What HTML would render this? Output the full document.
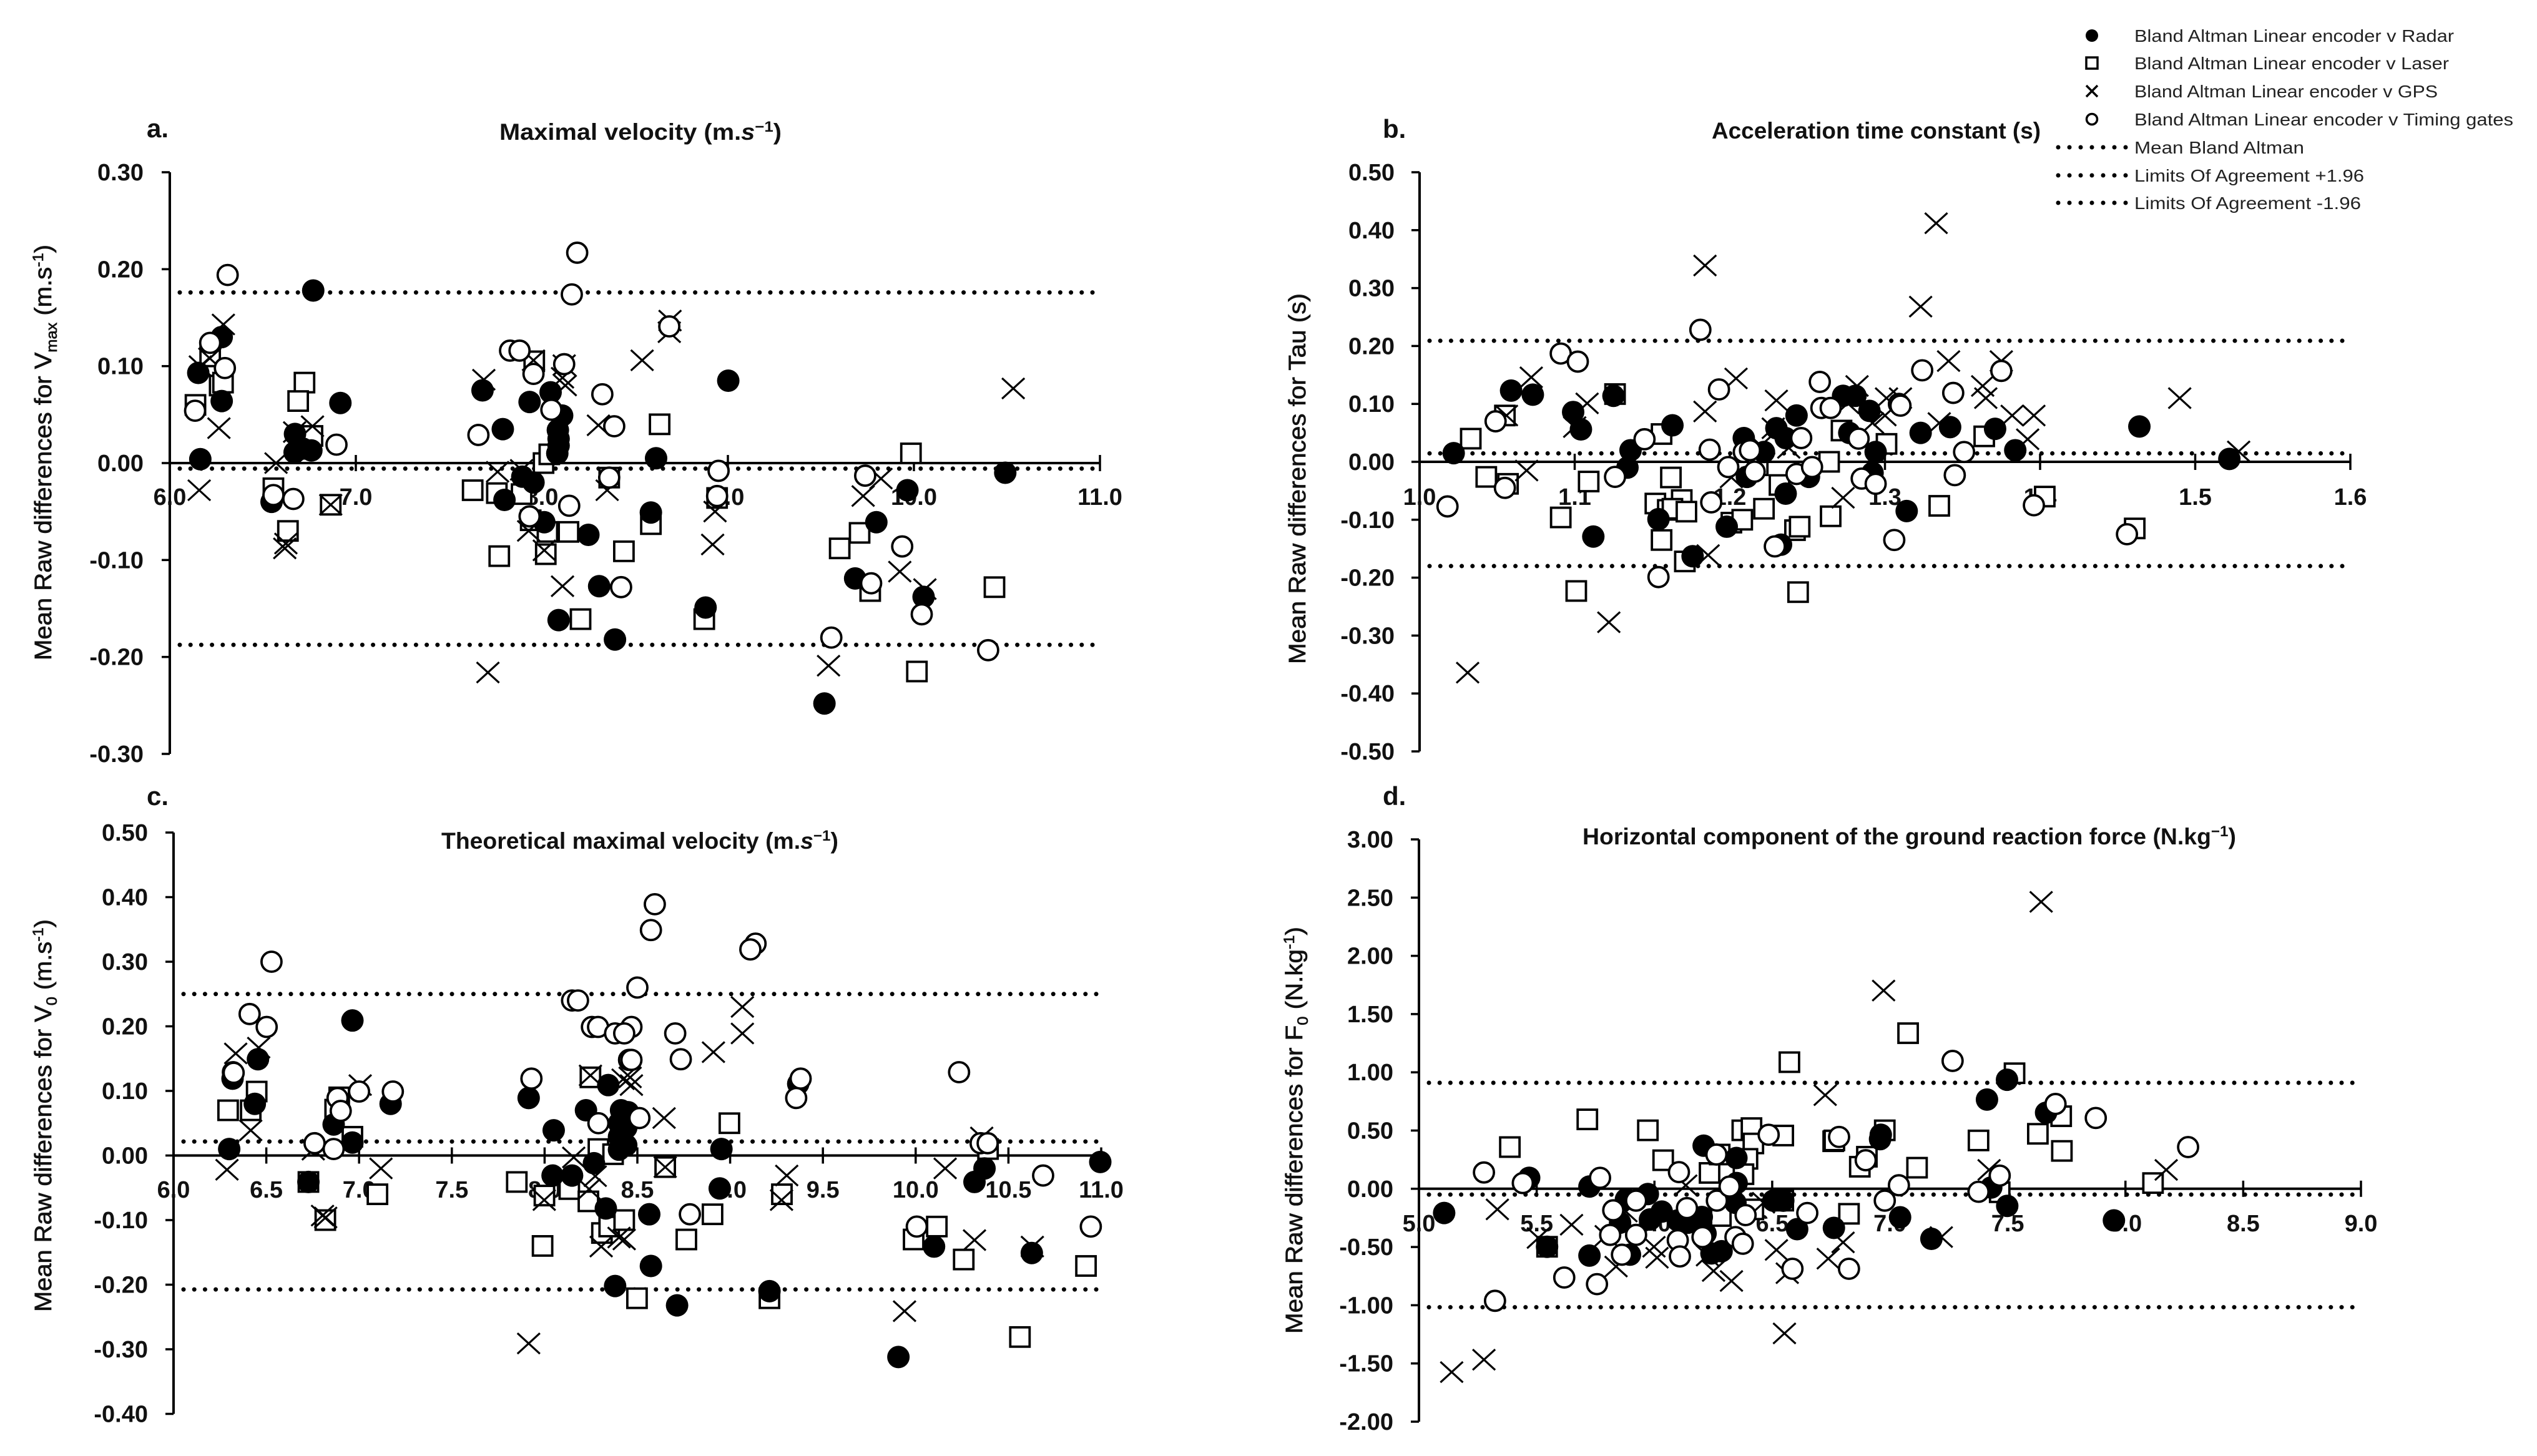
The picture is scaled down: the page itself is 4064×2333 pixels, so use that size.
<!DOCTYPE html>
<html lang="en">
<head>
<meta charset="utf-8">
<title>Bland Altman plots</title>
<style>
html,body{margin:0;padding:0;background:#fff;}
svg{display:block;}
text{font-family:"Liberation Sans",sans-serif;fill:#111;}
.panel-letter{font-size:42px;font-weight:bold;}
.panel-title{font-size:37px;font-weight:bold;}
.axis-title{font-size:38px;stroke:#111;stroke-width:0.7px;}
.tick-label{font-size:38px;font-weight:bold;}
.legend-text{font-size:28px;fill:#222;}
</style>
</head>
<body>
<svg id="chart" xmlns="http://www.w3.org/2000/svg" width="4064" height="2333" viewBox="0 0 4064 2333">
<rect x="0" y="0" width="4064" height="2333" fill="#ffffff"/>

<text class="panel-letter" x="235" y="220">a.</text>
<text class="panel-title" x="800" y="224" textLength="452" lengthAdjust="spacingAndGlyphs">Maximal velocity (m.<tspan font-style="italic">s</tspan><tspan dy="-13" font-size="24">−1</tspan><tspan dy="13">)</tspan></text>
<text class="axis-title" transform="translate(82,1058) rotate(-90)" x="0" y="0" textLength="666" lengthAdjust="spacingAndGlyphs">Mean Raw differences for V<tspan dy="9" font-size="24">max</tspan><tspan dy="-9"> (m.s</tspan><tspan dy="-13" font-size="24">-1</tspan><tspan dy="13">)</tspan></text>

<text class="panel-letter" x="2215" y="221">b.</text>
<text class="panel-title" x="2742" y="222" textLength="527" lengthAdjust="spacingAndGlyphs">Acceleration time constant (s)</text>
<text class="axis-title" transform="translate(2091,1064) rotate(-90)" x="0" y="0" textLength="594" lengthAdjust="spacingAndGlyphs">Mean Raw differences for Tau  (s)</text>

<text class="panel-letter" x="235" y="1290">c.</text>
<text class="panel-title" x="707" y="1360" textLength="636" lengthAdjust="spacingAndGlyphs">Theoretical maximal velocity (m.<tspan font-style="italic">s</tspan><tspan dy="-13" font-size="24">−1</tspan><tspan dy="13">)</tspan></text>
<text class="axis-title" transform="translate(82,2102) rotate(-90)" x="0" y="0" textLength="629" lengthAdjust="spacingAndGlyphs">Mean Raw differences for V<tspan dy="9" font-size="24">0</tspan><tspan dy="-9"> (m.s</tspan><tspan dy="-13" font-size="24">-1</tspan><tspan dy="13">)</tspan></text>

<text class="panel-letter" x="2215" y="1290">d.</text>
<text class="panel-title" x="2535" y="1353" textLength="1047" lengthAdjust="spacingAndGlyphs">Horizontal component of the ground reaction force (N.kg<tspan dy="-13" font-size="24">−1</tspan><tspan dy="13">)</tspan></text>
<text class="axis-title" transform="translate(2086,2137) rotate(-90)" x="0" y="0" textLength="652" lengthAdjust="spacingAndGlyphs">Mean Raw differences for F<tspan dy="9" font-size="24">0</tspan><tspan dy="-9">  (N.kg</tspan><tspan dy="-13" font-size="24">-1</tspan><tspan dy="13">)</tspan></text>

<g>
  <circle cx="3351" cy="57" r="10" fill="#000"/>
  <rect x="3342" y="92" width="18" height="18" fill="#fff" stroke="#000" stroke-width="3.5"/>
  <path d="M3342 137L3360 155M3360 137L3342 155" stroke="#000" stroke-width="3.5" fill="none"/>
  <circle cx="3351" cy="191" r="8.5" fill="#fff" stroke="#000" stroke-width="3.5"/>
  <line x1="3297" x2="3406" y1="236" y2="236" stroke="#000" stroke-width="7" stroke-linecap="round" stroke-dasharray="0 18"/>
  <line x1="3297" x2="3406" y1="281" y2="281" stroke="#000" stroke-width="7" stroke-linecap="round" stroke-dasharray="0 18"/>
  <line x1="3297" x2="3406" y1="325" y2="325" stroke="#000" stroke-width="7" stroke-linecap="round" stroke-dasharray="0 18"/>
  <text class="legend-text" x="3419" y="67" textLength="512" lengthAdjust="spacingAndGlyphs">Bland Altman Linear encoder v Radar</text>
  <text class="legend-text" x="3419" y="111" textLength="504" lengthAdjust="spacingAndGlyphs">Bland Altman Linear encoder v Laser</text>
  <text class="legend-text" x="3419" y="156" textLength="486" lengthAdjust="spacingAndGlyphs">Bland Altman Linear encoder v GPS</text>
  <text class="legend-text" x="3419" y="201" textLength="607" lengthAdjust="spacingAndGlyphs">Bland Altman Linear encoder v Timing gates</text>
  <text class="legend-text" x="3419" y="246" textLength="272" lengthAdjust="spacingAndGlyphs">Mean Bland Altman</text>
  <text class="legend-text" x="3419" y="291" textLength="368" lengthAdjust="spacingAndGlyphs">Limits Of Agreement +1.96</text>
  <text class="legend-text" x="3419" y="335" textLength="363" lengthAdjust="spacingAndGlyphs">Limits Of Agreement -1.96</text>
</g>
</svg>

<script>
// Panel a - Maximal velocity
const aXTicks = [6, 7, 8, 9, 10, 11];
const aYTicks = [0.3, 0.2, 0.1, 0, -0.1, -0.2, -0.3];
const aLimits = [0.176, -0.0057, -0.1875];
const aRadarX = [6.153,6.279,6.279,6.164,6.771,6.917,6.673,6.671,6.714,6.761,6.547,7.681,7.790,7.799,7.934,8.047,8.109,8.086,8.090,8.090,8.083,7.895,7.955,8.013,8.250,8.308,8.090,8.393,8.614,9.002,8.586,8.880,9.519,9.684,9.798,9.965,10.052,10.491];
const aRadarY = [0.093,0.130,0.064,0.004,0.178,0.062,0.030,0.011,0.015,0.013,-0.040,0.075,0.035,-0.038,0.063,0.073,0.049,0.034,0.025,0.018,0.010,-0.014,-0.020,-0.061,-0.074,-0.127,-0.162,-0.182,0.005,0.085,-0.051,-0.149,-0.248,-0.119,-0.061,-0.028,-0.138,-0.010];
const aLaserX = [6.138,6.217,6.268,6.286,6.557,6.635,6.724,6.690,6.767,6.865,7.628,7.758,7.771,7.891,7.959,8.009,8.040,7.940,8.030,8.143,8.021,8.208,8.441,8.362,8.586,8.633,8.873,8.942,9.601,9.708,9.765,9.984,10.016,10.433];
const aLaserY = [0.060,0.110,0.080,0.083,-0.026,-0.070,0.083,0.064,0.028,-0.043,-0.028,-0.031,-0.096,-0.032,0.105,0.000,0.009,-0.059,-0.071,-0.071,-0.094,-0.161,-0.091,-0.015,-0.063,0.040,-0.161,-0.036,-0.088,-0.072,-0.132,0.010,-0.215,-0.128];
const aGpsX = [6.158,6.164,6.215,6.288,6.264,6.571,6.767,6.671,6.624,6.618,6.865,7.688,7.710,7.762,7.891,7.955,7.929,8.013,8.111,8.120,8.111,8.126,8.304,8.351,8.689,8.685,8.539,8.931,8.918,9.727,9.823,9.924,10.059,9.541,10.534];
const aGpsY = [-0.028,0.100,0.108,0.143,0.036,0.000,0.038,0.032,-0.083,-0.088,-0.043,0.086,-0.216,-0.009,-0.007,0.106,-0.070,-0.090,-0.127,0.101,0.088,0.080,0.039,-0.028,0.147,0.135,0.106,-0.050,-0.084,-0.034,-0.016,-0.112,-0.130,-0.209,0.077];
const aTimingX = [6.311,6.217,6.296,6.136,6.896,6.557,6.664,7.659,7.829,7.880,7.955,8.120,8.051,8.190,8.161,8.325,8.389,8.362,8.147,7.934,8.426,8.950,8.942,9.738,9.937,9.770,10.042,9.556,10.399,8.685];
const aTimingY = [0.194,0.124,0.098,0.054,0.019,-0.033,-0.037,0.029,0.116,0.116,0.092,0.102,0.055,0.217,0.174,0.071,0.038,-0.015,-0.044,-0.055,-0.128,-0.008,-0.034,-0.013,-0.086,-0.124,-0.156,-0.180,-0.193,0.141];

// Panel b - Acceleration time constant
const bXTicks = [1.0, 1.1, 1.2, 1.3, 1.4, 1.5, 1.6];
const bYTicks = [0.5, 0.4, 0.3, 0.2, 0.1, 0, -0.1, -0.2, -0.3, -0.4, -0.5];
const bLimits = [0.209, 0.0146, -0.18];
const bRadarX = [1.022,1.059,1.073,1.099,1.104,1.125,1.136,1.134,1.112,1.163,1.154,1.176,1.198,1.209,1.211,1.222,1.230,1.236,1.243,1.236,1.233,1.251,1.273,1.281,1.290,1.277,1.294,1.292,1.314,1.323,1.342,1.371,1.384,1.464,1.522];
const bRadarY = [0.015,0.123,0.116,0.086,0.056,0.114,0.020,-0.010,-0.129,0.063,-0.099,-0.163,-0.112,0.041,-0.026,0.017,0.058,0.041,0.080,-0.055,-0.143,-0.026,0.114,0.114,0.088,0.050,0.017,-0.019,-0.085,0.050,0.060,0.057,0.020,0.061,0.005];
const bLaserX = [1.033,1.043,1.055,1.057,1.091,1.101,1.109,1.126,1.152,1.156,1.156,1.162,1.169,1.160,1.163,1.172,1.171,1.201,1.208,1.218,1.222,1.232,1.242,1.245,1.244,1.264,1.265,1.272,1.301,1.335,1.364,1.403,1.461];
const bLaserY = [0.040,-0.026,0.080,-0.038,-0.096,-0.223,-0.034,0.117,-0.072,-0.135,0.048,-0.027,-0.066,-0.083,-0.081,-0.086,-0.172,-0.105,-0.100,-0.006,-0.081,-0.040,-0.118,-0.112,-0.225,0.000,-0.094,0.054,0.031,-0.076,0.044,-0.060,-0.115];
const bGpsX = [1.031,1.056,1.069,1.072,1.108,1.100,1.122,1.184,1.184,1.204,1.186,1.201,1.230,1.228,1.238,1.220,1.273,1.282,1.276,1.292,1.301,1.300,1.310,1.333,1.323,1.341,1.375,1.335,1.363,1.365,1.382,1.396,1.392,1.490,1.528];
const bGpsY = [-0.364,0.080,-0.015,0.146,0.101,0.060,-0.277,0.339,0.087,0.144,-0.161,-0.027,0.106,0.058,0.024,0.028,-0.062,0.131,0.101,0.067,0.110,0.080,0.110,0.412,0.268,0.174,0.174,0.067,0.131,0.110,0.080,0.080,0.039,0.110,0.018];
const bTimingX = [1.018,1.049,1.055,1.091,1.102,1.126,1.145,1.154,1.181,1.187,1.193,1.188,1.199,1.209,1.213,1.216,1.229,1.243,1.246,1.253,1.258,1.259,1.265,1.283,1.285,1.294,1.306,1.309,1.310,1.324,1.344,1.351,1.345,1.375,1.396,1.456];
const bTimingY = [-0.077,0.070,-0.045,0.187,0.173,-0.026,0.039,-0.199,0.228,0.021,0.125,-0.070,-0.009,0.017,0.020,-0.017,-0.146,-0.021,0.041,-0.009,0.138,0.093,0.093,0.040,-0.029,-0.038,-0.135,0.100,0.097,0.158,0.119,0.017,-0.023,0.157,-0.075,-0.125];

// Panel c - Theoretical maximal velocity
const cXTicks = [6, 6.5, 7, 7.5, 8, 8.5, 9, 9.5, 10, 10.5, 11];
const cYTicks = [0.5, 0.4, 0.3, 0.2, 0.1, 0, -0.1, -0.2, -0.3, -0.4];
const cLimits = [0.25, 0.0216, -0.2074];
const cRadarX = [6.300,6.318,6.455,6.438,6.727,6.863,6.964,6.964,7.170,7.914,8.049,8.043,8.148,8.223,8.266,8.343,8.330,8.412,8.401,8.401,8.401,8.380,8.450,8.440,8.440,8.564,8.573,8.714,8.953,8.944,9.212,9.367,9.907,10.099,10.371,10.317,10.626,10.995];
const cRadarY = [0.010,0.119,0.149,0.080,-0.041,0.048,0.209,0.020,0.080,0.089,0.039,-0.031,-0.031,0.070,-0.012,0.109,-0.082,0.070,0.050,0.029,0.009,-0.202,0.067,0.043,0.016,-0.091,-0.171,-0.232,0.010,-0.051,-0.210,0.111,-0.312,-0.141,-0.020,-0.041,-0.151,-0.010];
const cLaserX = [6.294,6.416,6.448,6.727,6.818,6.893,6.871,6.964,7.099,7.850,7.989,7.999,8.133,8.236,8.247,8.290,8.369,8.309,8.348,8.429,8.498,8.650,8.764,8.905,8.996,9.212,9.279,9.989,10.114,10.259,10.390,10.562,10.918];
const cLaserY = [0.070,0.070,0.099,-0.041,-0.100,0.090,0.071,0.029,-0.060,-0.041,-0.140,-0.062,-0.052,-0.071,0.121,0.010,0.002,-0.120,-0.110,-0.100,-0.221,-0.018,-0.130,-0.091,0.050,-0.221,-0.060,-0.130,-0.110,-0.161,0.010,-0.281,-0.171];
const cGpsX = [6.288,6.335,6.416,6.459,6.753,6.803,6.820,7.006,7.118,7.914,7.998,8.157,8.247,8.273,8.240,8.305,8.401,8.423,8.461,8.468,8.429,8.644,8.650,8.910,9.066,9.066,9.305,9.277,9.940,10.159,10.317,10.356,10.629];
const cGpsY = [-0.022,0.158,0.039,0.167,0.009,-0.093,-0.096,0.109,-0.020,-0.291,-0.069,-0.003,0.124,-0.032,-0.052,-0.141,-0.127,0.118,0.121,0.109,-0.130,0.058,-0.018,0.160,0.189,0.230,-0.031,-0.069,-0.241,-0.020,-0.131,0.028,-0.141];
const cTimingX = [6.528,6.410,6.502,6.320,6.324,6.760,6.863,6.884,6.901,7.000,7.182,7.929,8.148,8.180,8.255,8.288,8.380,8.290,8.455,8.594,8.573,8.500,8.468,8.429,8.468,8.511,8.704,8.734,8.783,9.137,9.109,9.380,9.356,10.006,10.234,10.350,10.388,10.687,10.944];
const cTimingY = [0.300,0.219,0.199,0.129,0.128,0.019,0.010,0.089,0.069,0.099,0.099,0.119,0.240,0.240,0.199,0.199,0.189,0.050,0.148,0.389,0.349,0.260,0.199,0.189,0.148,0.058,0.189,0.149,-0.091,0.328,0.319,0.119,0.089,-0.110,0.129,0.019,0.019,-0.031,-0.110];

// Panel d - Horizontal component of the ground reaction force
const dXTicks = [5, 5.5, 6, 6.5, 7, 7.5, 8, 8.5, 9];
const dYTicks = [3, 2.5, 2, 1.5, 1, 0.5, 0, -0.5, -1, -1.5, -2];
const dLimits = [0.91, -0.05, -1.017];
const dRadarX = [5.107,5.468,5.724,5.724,5.544,5.879,5.972,6.031,5.981,5.854,6.099,6.142,6.201,6.209,6.217,6.242,6.285,6.348,6.349,6.344,5.896,6.505,6.547,6.606,6.762,6.961,6.958,7.043,7.176,7.412,7.497,7.430,7.498,7.663,7.951];
const dRadarY = [-0.208,0.094,-0.574,0.019,-0.498,-0.091,-0.045,-0.196,-0.264,-0.291,-0.272,-0.291,-0.242,0.370,-0.385,-0.555,-0.536,0.264,0.049,-0.121,-0.566,-0.102,-0.102,-0.347,-0.336,0.464,0.426,-0.245,-0.430,0.766,0.936,0.011,-0.147,0.653,-0.272];
const dLaserX = [5.386,5.715,5.544,5.972,6.037,6.234,6.277,6.373,6.412,6.420,6.395,6.378,6.547,6.282,6.420,6.547,6.573,6.759,6.764,6.826,6.902,6.872,6.978,7.077,7.115,7.376,7.529,7.466,7.628,7.727,7.730,8.117];
const dLaserY = [0.358,0.596,-0.498,0.502,0.245,0.136,0.294,0.502,0.521,0.389,0.257,0.125,0.457,-0.234,-0.177,-0.102,1.087,0.408,0.415,-0.215,0.275,0.189,0.502,1.336,0.181,0.415,0.992,-0.030,0.472,0.623,0.325,0.049];
const dGpsX = [5.139,5.276,5.333,5.648,5.507,6.133,5.795,5.837,5.998,6.011,6.251,6.225,6.327,6.518,6.564,6.552,6.725,6.738,6.801,6.973,6.463,5.879,7.218,7.642,7.421,8.173];
const dGpsY = [-1.574,-1.468,-0.177,-0.309,-0.423,0.030,-0.404,-0.668,-0.498,-0.592,-0.706,-0.574,-0.792,-0.525,-0.725,-1.242,0.804,-0.600,-0.460,1.702,-0.120,-0.196,-0.415,2.464,0.162,0.162];
const dTimingX = [5.276,5.441,5.323,5.617,5.756,5.769,5.825,5.812,5.862,5.922,5.922,6.104,6.138,6.099,6.108,6.204,6.263,6.265,6.319,6.387,6.344,6.375,6.485,6.649,6.586,6.784,6.826,6.897,6.978,7.038,7.266,7.376,7.466,7.703,7.874,8.266];
const dTimingY = [0.140,0.049,-0.962,-0.762,-0.819,0.094,-0.185,-0.396,-0.566,-0.102,-0.396,0.143,-0.166,-0.442,-0.581,-0.415,0.294,-0.102,0.019,-0.226,-0.415,-0.472,0.464,-0.208,-0.687,0.445,-0.687,0.245,-0.102,0.030,1.098,-0.026,0.113,0.728,0.608,0.358];

const SVG_NS = 'http://www.w3.org/2000/svg';
const chart = document.getElementById('chart');

function make(tag, parent) {
  const el = document.createElementNS(SVG_NS, tag);
  parent.appendChild(el);
  return el;
}
function xPos(frame, value) {
  return frame.left + (value - frame.xMin) / (frame.xMax - frame.xMin) * (frame.right - frame.left);
}
function yPos(frame, value) {
  return frame.top + (frame.yMax - value) / (frame.yMax - frame.yMin) * (frame.bottom - frame.top);
}
function drawLaser(parent, cx, cy) {
  const el = make('rect', parent);
  
  
  el.setAttribute('x', cx - 15.5);
  el.setAttribute('y', cy - 15.5);
  el.setAttribute('width', 31);
  el.setAttribute('height', 31);
  el.setAttribute('fill', '#fff');
  el.setAttribute('stroke', '#000');
  el.setAttribute('stroke-width', 3.8);
}
function drawGps(parent, cx, cy) {
  const el = make('path', parent);
  
  
  el.setAttribute('d', 'M' + (cx - 18) + ' ' + (cy - 16.5) + 'L' + (cx + 18) + ' ' + (cy + 16.5) + 'M' + (cx + 18) + ' ' + (cy - 16.5) + 'L' + (cx - 18) + ' ' + (cy + 16.5));
  el.setAttribute('fill', 'none');
  el.setAttribute('stroke', '#000');
  el.setAttribute('stroke-width', 3.2);
}
function drawRadar(parent, cx, cy) {
  const el = make('circle', parent);
  
  
  el.setAttribute('cx', cx);
  el.setAttribute('cy', cy);
  el.setAttribute('r', 18);
  el.setAttribute('fill', '#000');
}
function drawTiming(parent, cx, cy) {
  const el = make('circle', parent);
  
  
  el.setAttribute('cx', cx);
  el.setAttribute('cy', cy);
  el.setAttribute('r', 16);
  el.setAttribute('fill', '#fff');
  el.setAttribute('stroke', '#000');
  el.setAttribute('stroke-width', 3.8);
}
function drawSeries(frame, group, xs, ys, painter) {
  for (let i = 0; i < xs.length; i++) {
    painter(group, xPos(frame, xs[i]), yPos(frame, ys[i]));
  }
}
function drawPanel(frame, xTicks, yTicks, limits, series) {
  const root = make('g', chart);
  
  

  const yAxis = make('line', root);
  
  
  yAxis.setAttribute('x1', frame.left);
  yAxis.setAttribute('x2', frame.left);
  yAxis.setAttribute('y1', frame.top);
  yAxis.setAttribute('y2', frame.bottom);
  yAxis.setAttribute('stroke', '#000');
  yAxis.setAttribute('stroke-width', 4);

  yTicks.forEach(function (value) {
    const py = yPos(frame, value);
    const tick = make('line', root);
    
    
    tick.setAttribute('x1', frame.left - 13);
    tick.setAttribute('x2', frame.left);
    tick.setAttribute('y1', py);
    tick.setAttribute('y2', py);
    tick.setAttribute('stroke', '#000');
    tick.setAttribute('stroke-width', 3.5);
    const label = make('text', root);
    
    
    label.setAttribute('class', 'tick-label');
    label.setAttribute('x', frame.labelRight);
    label.setAttribute('y', py + 13);
    label.setAttribute('text-anchor', 'end');
    label.textContent = value.toFixed(2);
  });

  const zeroY = yPos(frame, 0);
  limits.forEach(function (value) {
    const dotted = make('line', root);
    
    
    dotted.setAttribute('x1', frame.left + 16);
    dotted.setAttribute('x2', frame.right - 3);
    dotted.setAttribute('y1', yPos(frame, value));
    dotted.setAttribute('y2', yPos(frame, value));
    dotted.setAttribute('stroke', '#000');
    dotted.setAttribute('stroke-width', 7);
    dotted.setAttribute('stroke-linecap', 'round');
    dotted.setAttribute('stroke-dasharray', '0 17.2');
  });

  const xAxis = make('line', root);
  
  
  xAxis.setAttribute('x1', frame.left);
  xAxis.setAttribute('x2', frame.right);
  xAxis.setAttribute('y1', zeroY);
  xAxis.setAttribute('y2', zeroY);
  xAxis.setAttribute('stroke', '#000');
  xAxis.setAttribute('stroke-width', 4);

  xTicks.forEach(function (value) {
    const px = xPos(frame, value);
    const tick = make('line', root);
    
    
    tick.setAttribute('x1', px);
    tick.setAttribute('x2', px);
    tick.setAttribute('y1', zeroY - 13);
    tick.setAttribute('y2', zeroY + 13);
    tick.setAttribute('stroke', '#000');
    tick.setAttribute('stroke-width', 3.5);
    const label = make('text', root);
    
    
    label.setAttribute('class', 'tick-label');
    label.setAttribute('x', px);
    label.setAttribute('y', frame.xLabelY);
    label.setAttribute('text-anchor', 'middle');
    label.textContent = value.toFixed(1);
  });

  const laserGroup = make('g', root);
  
  
  drawSeries(frame, laserGroup, series.laserX, series.laserY, drawLaser);

  const gpsGroup = make('g', root);
  
  
  drawSeries(frame, gpsGroup, series.gpsX, series.gpsY, drawGps);

  const radarGroup = make('g', root);
  
  
  drawSeries(frame, radarGroup, series.radarX, series.radarY, drawRadar);

  const timingGroup = make('g', root);
  
  
  drawSeries(frame, timingGroup, series.timingX, series.timingY, drawTiming);
}

drawPanel({id:'a', left:272, right:1762, top:276, bottom:1208, xMin:6, xMax:11, yMin:-0.3, yMax:0.3, labelRight:230, xLabelY:809},
  aXTicks, aYTicks, aLimits,
  {radarX:aRadarX, radarY:aRadarY, laserX:aLaserX, laserY:aLaserY, gpsX:aGpsX, gpsY:aGpsY, timingX:aTimingX, timingY:aTimingY});
drawPanel({id:'b', left:2274, right:3765, top:276, bottom:1204, xMin:1, xMax:1.6, yMin:-0.5, yMax:0.5, labelRight:2234, xLabelY:809},
  bXTicks, bYTicks, bLimits,
  {radarX:bRadarX, radarY:bRadarY, laserX:bLaserX, laserY:bLaserY, gpsX:bGpsX, gpsY:bGpsY, timingX:bTimingX, timingY:bTimingY});
drawPanel({id:'c', left:278, right:1764, top:1334, bottom:2265.5, xMin:6, xMax:11, yMin:-0.4, yMax:0.5, labelRight:237, xLabelY:1919},
  cXTicks, cYTicks, cLimits,
  {radarX:cRadarX, radarY:cRadarY, laserX:cLaserX, laserY:cLaserY, gpsX:cGpsX, gpsY:cGpsY, timingX:cTimingX, timingY:cTimingY});
drawPanel({id:'d', left:2273, right:3782, top:1345, bottom:2278, xMin:5, xMax:9, yMin:-2, yMax:3, labelRight:2232, xLabelY:1973},
  dXTicks, dYTicks, dLimits,
  {radarX:dRadarX, radarY:dRadarY, laserX:dLaserX, laserY:dLaserY, gpsX:dGpsX, gpsY:dGpsY, timingX:dTimingX, timingY:dTimingY});
</script>
</body>
</html>
